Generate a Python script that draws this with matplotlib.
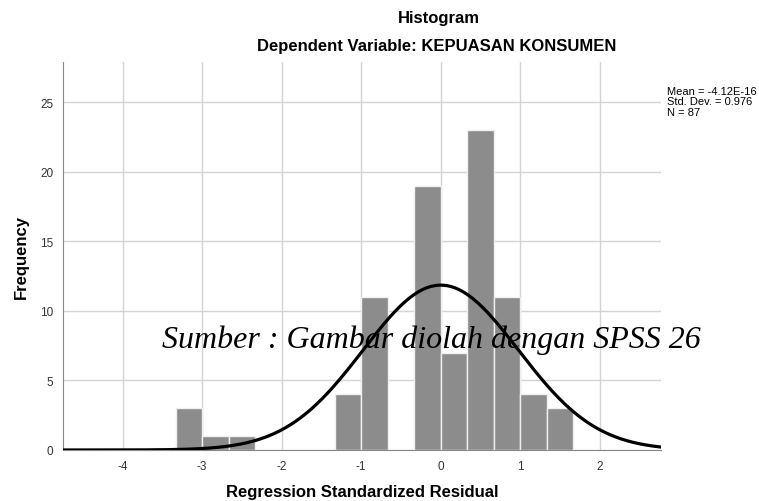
import matplotlib.pyplot as plt
import numpy as np

plt.rcParams['font.family'] = ['Liberation Sans', 'DejaVu Sans']
plt.rcParams['axes.unicode_minus'] = False

# histogram bins (width 1/3)
bin_edges = [-10/3, -3, -8/3, -7/3, -2, -5/3, -4/3, -1, -2/3, -1/3, 0, 1/3, 2/3, 1, 4/3, 5/3]
counts = [3, 1, 1, 0, 0, 0, 4, 11, 0, 19, 7, 23, 11, 4, 3]
mean = -4.12e-16
std_dev = 0.976
n = 87
x_ticks = [-4, -3, -2, -1, 0, 1, 2]
y_ticks = [0, 5, 10, 15, 20, 25]

fig = plt.figure(figsize=(7.59, 5.02), dpi=100)
ax = fig.add_axes([0.083, 0.1016, 0.788, 0.773])

lefts = np.array(bin_edges[:-1])
widths = np.diff(bin_edges)
ax.bar(lefts, counts, width=widths, align='edge', color='#8c8c8c',
       edgecolor='#f0f0f0', linewidth=1.0, zorder=2)

# normal curve scaled to counts
xs = np.linspace(-4.75, 2.77, 400)
bw = 1/3
ys = n * bw * np.exp(-0.5 * ((xs - mean) / std_dev) ** 2) / (std_dev * np.sqrt(2 * np.pi))
ax.plot(xs, ys, color='black', linewidth=2.3, zorder=3)

ax.set_xlim(-4.75, 2.77)
ax.set_ylim(0, 27.9)
ax.set_xticks(x_ticks)
ax.set_yticks(y_ticks)
ax.tick_params(length=0, labelsize=8.5, labelcolor='#333333', pad=7)
ax.grid(True, color='#d4d4d4', linewidth=1.0, zorder=0)
ax.set_axisbelow(True)
for s in ['top', 'right']:
    ax.spines[s].set_visible(False)
ax.spines['left'].set_color('#888888')
ax.spines['bottom'].set_color('#888888')

ax.set_xlabel('Regression Standardized Residual', fontsize=12, fontweight='bold', labelpad=9)
ax.set_ylabel('Frequency', fontsize=12, fontweight='bold', labelpad=8)

fig.text(439/759, 1 - 18/502, 'Histogram', ha='center', va='center',
         fontsize=12, fontweight='bold')
fig.text(437/759, 1 - 47/502, 'Dependent Variable: KEPUASAN KONSUMEN', ha='center',
         va='center', fontsize=12, fontweight='bold')

fig.text(667/759, 1 - 87/502, 'Mean = -4.12E-16\nStd. Dev. = 0.976\nN = 87',
         ha='left', va='top', fontsize=8, linespacing=1.05)

fig.text(431/759, 1 - 340/502, 'Sumber : Gambar diolah dengan SPSS 26', ha='center',
         va='center', fontsize=23, fontstyle='italic', family='Liberation Serif')

fig.savefig('out.png', dpi=100, facecolor='white')
